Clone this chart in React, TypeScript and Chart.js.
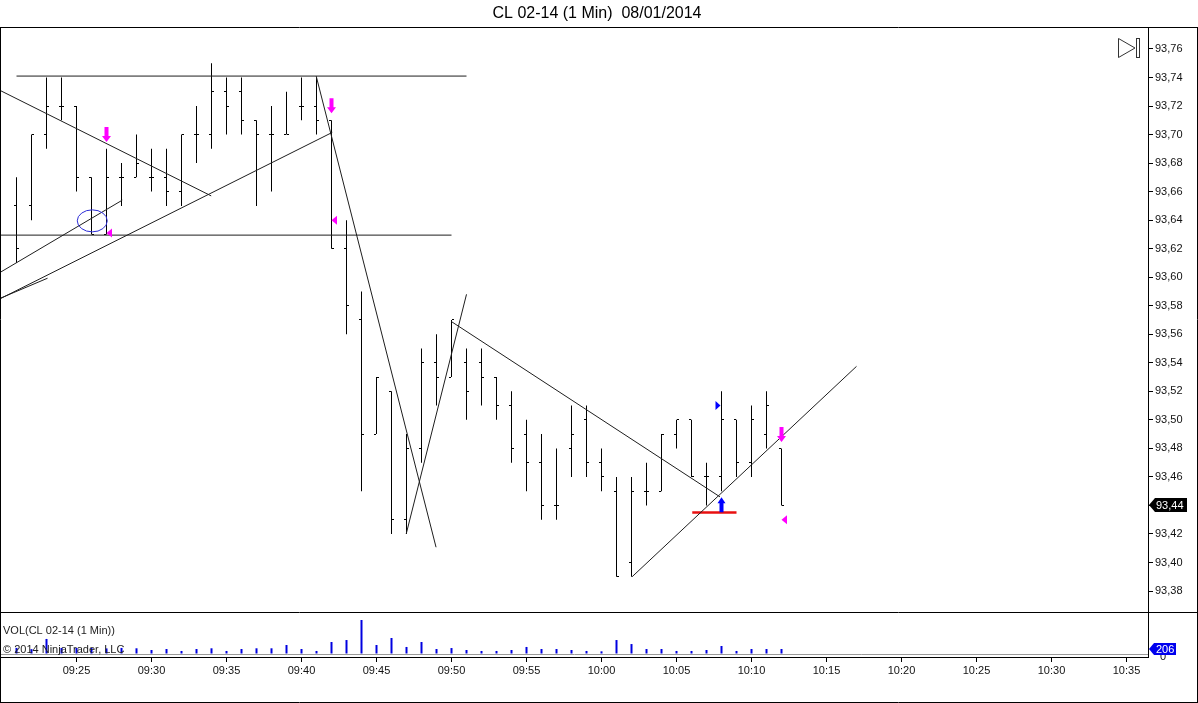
import React, { useEffect, useRef } from "react";
import { Chart, registerables } from "chart.js";

Chart.register(...registerables);

const FONT_FAMILY = "'Liberation Sans', Arial, Helvetica, sans-serif";
const TITLE = "CL 02-14 (1 Min)  08/01/2014";
const VOL_TITLE = "VOL(CL 02-14 (1 Min))";
const COPYRIGHT = "\u00A9 2014 NinjaTrader, LLC";

// ---- bar data (1 minute OHLC) ----
const barTimes = [
  "09:21", "09:22", "09:23", "09:24", "09:25", "09:26", "09:27", "09:28", "09:29", "09:30",
  "09:31", "09:32", "09:33", "09:34", "09:35", "09:36", "09:37", "09:38", "09:39", "09:40",
  "09:41", "09:42", "09:43", "09:44", "09:45", "09:46", "09:47", "09:48", "09:49", "09:50",
  "09:51", "09:52", "09:53", "09:54", "09:55", "09:56", "09:57", "09:58", "09:59", "10:00",
  "10:01", "10:02", "10:03", "10:04", "10:05", "10:06", "10:07", "10:08", "10:09", "10:10",
  "10:11", "10:12",
];
const barOpen = [
  93.65, 93.65, 93.70, 93.72, 93.72, 93.67, 93.63, 93.67, 93.67, 93.67,
  93.67, 93.66, 93.70, 93.70, 93.73, 93.73, 93.71, 93.70, 93.70, 93.72,
  93.72, 93.71, 93.62, 93.57, 93.49, 93.52, 93.43, 93.48, 93.54, 93.53,
  93.54, 93.54, 93.53, 93.51, 93.49, 93.47, 93.44, 93.48, 93.50, 93.47,
  93.45, 93.40, 93.45, 93.45, 93.49, 93.50, 93.46, 93.46, 93.50, 93.47,
  93.49, 93.48,
];
const barHigh = [
  93.67, 93.70, 93.74, 93.74, 93.72, 93.67, 93.69, 93.68, 93.70, 93.69,
  93.69, 93.70, 93.72, 93.75, 93.74, 93.74, 93.71, 93.72, 93.73, 93.74,
  93.74, 93.71, 93.64, 93.59, 93.53, 93.52, 93.49, 93.55, 93.56, 93.57,
  93.55, 93.55, 93.53, 93.52, 93.50, 93.49, 93.48, 93.51, 93.51, 93.48,
  93.46, 93.46, 93.47, 93.49, 93.50, 93.50, 93.47, 93.52, 93.50, 93.51,
  93.52, 93.48,
];
const barLow = [
  93.61, 93.64, 93.69, 93.71, 93.66, 93.63, 93.63, 93.65, 93.67, 93.66,
  93.65, 93.65, 93.68, 93.69, 93.70, 93.70, 93.65, 93.66, 93.70, 93.71,
  93.70, 93.62, 93.56, 93.45, 93.49, 93.42, 93.42, 93.47, 93.51, 93.53,
  93.50, 93.51, 93.50, 93.47, 93.45, 93.43, 93.43, 93.46, 93.46, 93.45,
  93.39, 93.39, 93.44, 93.45, 93.48, 93.46, 93.44, 93.45, 93.46, 93.46,
  93.48, 93.44,
];
const barClose = [
  93.62, 93.70, 93.72, 93.72, 93.67, 93.63, 93.67, 93.67, 93.68, 93.67,
  93.66, 93.70, 93.70, 93.73, 93.72, 93.71, 93.70, 93.70, 93.70, 93.72,
  93.71, 93.62, 93.58, 93.49, 93.53, 93.43, 93.48, 93.54, 93.53, 93.57,
  93.52, 93.53, 93.51, 93.48, 93.47, 93.44, 93.44, 93.49, 93.47, 93.46,
  93.39, 93.45, 93.45, 93.49, 93.50, 93.46, 93.46, 93.50, 93.47, 93.50,
  93.51, 93.44,
];
const barVolume = [
  250, 200, 620, 250, 250, 250, 230, 250, 235, 165,
  205, 125, 205, 235, 125, 205, 235, 235, 370, 205,
  125, 495, 575, 1400, 370, 660, 290, 495, 205, 245,
  165, 125, 125, 165, 290, 205, 205, 165, 125, 110,
  575, 410, 205, 205, 125, 125, 165, 330, 125, 205,
  205, 206,
];

// ---- axis settings (time = minutes after 09:00) ----
const X_MIN = 20 - 1 / 30;
const X_MAX = X_MIN + 1147 / 15;
const PRICE_MIN = 93.3653;
const PRICE_MAX = 93.7754;
const PRICE_STEP = 0.02;
const TIME_STEP = 5;
const FIRST_TIME_TICK = 25;
const VOL_MIN = -123.5;
const VOL_MAX = 1688;

// ---- drawing objects (time in minutes after 09:00, price) ----
const drawnLines = [
  { t1: 21, p1: 93.741, t2: 51, p2: 93.741 },
  { t1: 19.93, p1: 93.6295, t2: 50, p2: 93.6295 },
  { t1: 19.93, p1: 93.7308, t2: 33.98, p2: 93.657 },
  { t1: 19.93, p1: 93.585, t2: 42.05, p2: 93.7015 },
  { t1: 19.93, p1: 93.5853, t2: 23.07, p2: 93.5993 },
  { t1: 19.93, p1: 93.6035, t2: 28.05, p2: 93.654 },
  { t1: 40.98, p1: 93.741, t2: 48.97, p2: 93.4107 },
  { t1: 46.98, p1: 93.42, t2: 51.0, p2: 93.588 },
  { t1: 49.98, p1: 93.569, t2: 67.9, p2: 93.446 },
  { t1: 62.04, p1: 93.39, t2: 77.0, p2: 93.5375 },
];
const supportLines = [{ t1: 66.05, t2: 69.0, p: 93.435 }];
const sellArrows = [
  { t: 27, p: 93.6947 },
  { t: 42, p: 93.7149 },
  { t: 72, p: 93.4844 },
];
const buyArrows = [{ t: 68, p: 93.4458 }];
const exitMarks = [
  { t: 27, p: 93.631 },
  { t: 42, p: 93.64 },
  { t: 72, p: 93.43 },
];
const entryMarks = [{ t: 68, p: 93.51 }];
const circleMarks = [{ t: 26.05, p: 93.6395 }];

const toMinutes = (s: string) => {
  const [h, m] = s.split(":").map(Number);
  return (h - 9) * 60 + m;
};
const fmtTime = (v: number) => {
  const h = 9 + Math.floor(v / 60);
  const m = Math.round(v % 60);
  return `${String(h).padStart(2, "0")}:${String(m).padStart(2, "0")}`;
};
const fmtPrice = (v: number) => v.toFixed(2).replace(".", ",");

function makeTick(side: "left" | "right") {
  const c = document.createElement("canvas");
  c.width = 7;
  c.height = 1;
  const g = c.getContext("2d")!;
  g.fillStyle = "#000";
  if (side === "left") g.fillRect(1, 0, 2, 1);
  else g.fillRect(4, 0, 2, 1);
  return c;
}

export default function App() {
  const priceRef = useRef<HTMLCanvasElement>(null);
  const volRef = useRef<HTMLCanvasElement>(null);

  useEffect(() => {
    const times = barTimes.map(toMinutes);
    const openTick = makeTick("left");
    const closeTick = makeTick("right");
    const font11 = { size: 11, family: FONT_FAMILY };

    const priceOverlay = {
      id: "priceOverlay",
      afterDatasetsDraw(chart: any) {
        const { ctx, chartArea } = chart;
        const xs = chart.scales.x;
        const ys = chart.scales.y;
        ctx.save();
        ctx.beginPath();
        ctx.rect(chartArea.left, chartArea.top, chartArea.right - chartArea.left, chartArea.bottom - chartArea.top);
        ctx.clip();

        circleMarks.forEach((c) => {
          ctx.strokeStyle = "#2b2bd6";
          ctx.lineWidth = 1;
          ctx.beginPath();
          ctx.ellipse(xs.getPixelForValue(c.t), ys.getPixelForValue(c.p), 15, 11, 0, 0, Math.PI * 2);
          ctx.stroke();
        });

        ctx.fillStyle = "#ff00ff";
        sellArrows.forEach((a) => {
          const cx = xs.getPixelForValue(a.t);
          const tip = ys.getPixelForValue(a.p);
          ctx.beginPath();
          ctx.moveTo(cx - 2, tip - 15);
          ctx.lineTo(cx + 2, tip - 15);
          ctx.lineTo(cx + 2, tip - 6);
          ctx.lineTo(cx + 4.5, tip - 6);
          ctx.lineTo(cx, tip);
          ctx.lineTo(cx - 4.5, tip - 6);
          ctx.lineTo(cx - 2, tip - 6);
          ctx.closePath();
          ctx.fill();
        });
        exitMarks.forEach((m) => {
          const cx = xs.getPixelForValue(m.t);
          const cy = ys.getPixelForValue(m.p);
          ctx.beginPath();
          ctx.moveTo(cx, cy);
          ctx.lineTo(cx + 5.5, cy - 4.5);
          ctx.lineTo(cx + 5.5, cy + 4.5);
          ctx.closePath();
          ctx.fill();
        });

        ctx.fillStyle = "#0000ff";
        buyArrows.forEach((a) => {
          const cx = xs.getPixelForValue(a.t);
          const tip = ys.getPixelForValue(a.p);
          ctx.beginPath();
          ctx.moveTo(cx, tip);
          ctx.lineTo(cx + 4, tip + 6);
          ctx.lineTo(cx + 2, tip + 6);
          ctx.lineTo(cx + 2, tip + 15);
          ctx.lineTo(cx - 2, tip + 15);
          ctx.lineTo(cx - 2, tip + 6);
          ctx.lineTo(cx - 4, tip + 6);
          ctx.closePath();
          ctx.fill();
        });
        entryMarks.forEach((m) => {
          const cx = xs.getPixelForValue(m.t) - 1;
          const cy = ys.getPixelForValue(m.p);
          ctx.beginPath();
          ctx.moveTo(cx, cy);
          ctx.lineTo(cx - 5, cy - 4.5);
          ctx.lineTo(cx - 5, cy + 4.5);
          ctx.closePath();
          ctx.fill();
        });
        ctx.restore();
      },
      afterDraw(chart: any) {
        const { ctx, chartArea, width } = chart;
        const ys = chart.scales.y;
        ctx.save();
        // title
        ctx.fillStyle = "#000";
        ctx.font = `16px ${FONT_FAMILY}`;
        ctx.textAlign = "center";
        ctx.textBaseline = "middle";
        ctx.fillText(TITLE, width / 2 - 2, chartArea.top / 2);

        // frame
        ctx.strokeStyle = "#000";
        ctx.lineWidth = 1;
        ctx.beginPath();
        ctx.moveTo(0, chartArea.top + 0.5);
        ctx.lineTo(width, chartArea.top + 0.5);
        ctx.moveTo(0.5, chartArea.top);
        ctx.lineTo(0.5, chartArea.bottom);
        ctx.moveTo(width - 0.5, chartArea.top);
        ctx.lineTo(width - 0.5, chartArea.bottom);
        ctx.stroke();

        // "scroll to end" icon
        const r = chartArea.right;
        const t = chartArea.top;
        ctx.strokeStyle = "#333";
        ctx.beginPath();
        ctx.moveTo(r - 29.5, t + 11.5);
        ctx.lineTo(r - 29.5, t + 30.5);
        ctx.lineTo(r - 13, t + 21);
        ctx.closePath();
        ctx.stroke();
        ctx.strokeRect(r - 11.5, t + 11.5, 3, 19);

        // last price flag
        const last = barClose[barClose.length - 1];
        const yy = Math.round(ys.getPixelForValue(last));
        const x0 = chartArea.right;
        ctx.fillStyle = "#000";
        ctx.beginPath();
        ctx.moveTo(x0 + 1, yy);
        ctx.lineTo(x0 + 7, yy - 7);
        ctx.lineTo(x0 + 39, yy - 7);
        ctx.lineTo(x0 + 39, yy + 7);
        ctx.lineTo(x0 + 7, yy + 7);
        ctx.closePath();
        ctx.fill();
        ctx.fillStyle = "#fff";
        ctx.font = `11px ${FONT_FAMILY}`;
        ctx.textAlign = "left";
        ctx.fillText(fmtPrice(last), x0 + 8, yy + 0.5);
        ctx.restore();
      },
    };

    const priceChart = new Chart(priceRef.current!, {
      type: "line",
      data: {
        datasets: [
          ...drawnLines.map((l) => ({
            type: "line" as const,
            data: [
              { x: l.t1, y: l.p1 },
              { x: l.t2, y: l.p2 },
            ],
            borderColor: "#1e1e1e",
            borderWidth: 1,
            pointRadius: 0,
            fill: false,
            tension: 0,
          })),
          ...supportLines.map((l) => ({
            type: "line" as const,
            data: [
              { x: l.t1, y: l.p },
              { x: l.t2, y: l.p },
            ],
            borderColor: "#e81010",
            borderWidth: 2.5,
            pointRadius: 0,
            fill: false,
          })),
          {
            type: "bar" as const,
            data: times.map((m, i) => ({ x: m, y: [barLow[i], barHigh[i]] })) as any,
            backgroundColor: "#000",
            borderWidth: 0,
            barThickness: 1,
            inflateAmount: 0,
          },
          {
            type: "scatter" as const,
            data: times.map((m, i) => ({ x: m, y: barOpen[i] })),
            pointStyle: openTick as any,
            pointRadius: 3,
            pointHoverRadius: 3,
          },
          {
            type: "scatter" as const,
            data: times.map((m, i) => ({ x: m, y: barClose[i] })),
            pointStyle: closeTick as any,
            pointRadius: 3,
            pointHoverRadius: 3,
          },
        ] as any,
      },
      options: {
        animation: false,
        responsive: false,
        events: [],
        layout: { autoPadding: false, padding: { left: 1, right: 0, top: 27, bottom: 9 } },
        plugins: {
          legend: { display: false },
          tooltip: { enabled: false },
          title: { display: false },
        },
        scales: {
          x: {
            type: "linear",
            min: X_MIN,
            max: X_MAX,
            offset: false,
            display: false,
          },
          y: {
            type: "linear",
            position: "right",
            min: PRICE_MIN,
            max: PRICE_MAX,
            ticks: {
              stepSize: PRICE_STEP,
              includeBounds: false,
              autoSkip: false,
              callback: (v: any) => fmtPrice(Number(v)),
              color: "#111",
              font: font11,
              padding: 2,
            },
            grid: { drawOnChartArea: false, drawTicks: true, tickLength: 5, color: "#000" },
            border: { display: true, color: "#000" },
            afterFit: (s: any) => {
              s.width = 50;
            },
          },
        },
      } as any,
      plugins: [priceOverlay],
    });

    const volOverlay = {
      id: "volOverlay",
      afterDraw(chart: any) {
        const { ctx, chartArea, width, height } = chart;
        const ys = chart.scales.y;
        ctx.save();
        ctx.strokeStyle = "#000";
        ctx.lineWidth = 1;
        ctx.beginPath();
        ctx.moveTo(0, 0.5);
        ctx.lineTo(width, 0.5);
        ctx.moveTo(0.5, 0);
        ctx.lineTo(0.5, height);
        ctx.moveTo(width - 0.5, 0);
        ctx.lineTo(width - 0.5, height);
        ctx.moveTo(0, height - 0.5);
        ctx.lineTo(width, height - 0.5);
        ctx.stroke();

        ctx.fillStyle = "#222";
        ctx.font = `11px ${FONT_FAMILY}`;
        ctx.textAlign = "left";
        ctx.textBaseline = "middle";
        ctx.fillText(VOL_TITLE, chartArea.left + 2, 19);
        ctx.fillText(COPYRIGHT, chartArea.left + 2, 38);

        // zero label partly hidden behind the volume flag
        const y0 = ys.getPixelForValue(0);
        ctx.fillStyle = "#111";
        ctx.fillText("0", chartArea.right + 12, y0 + 3);

        const lastVol = barVolume[barVolume.length - 1];
        const yy = Math.round(ys.getPixelForValue(lastVol));
        const x0 = chartArea.right;
        ctx.fillStyle = "#0000ee";
        ctx.beginPath();
        ctx.moveTo(x0 + 1, yy);
        ctx.lineTo(x0 + 6, yy - 6);
        ctx.lineTo(x0 + 28, yy - 6);
        ctx.lineTo(x0 + 28, yy + 6);
        ctx.lineTo(x0 + 6, yy + 6);
        ctx.closePath();
        ctx.fill();
        ctx.fillStyle = "#fff";
        ctx.fillText(String(lastVol), x0 + 8, yy + 0.5);
        ctx.restore();
      },
    };

    const volChart = new Chart(volRef.current!, {
      type: "bar",
      data: {
        datasets: [
          {
            data: times.map((m, i) => ({ x: m, y: barVolume[i] })) as any,
            backgroundColor: "#0000e0",
            borderWidth: 0,
            barThickness: 2,
            inflateAmount: 0,
          },
        ],
      },
      options: {
        animation: false,
        responsive: false,
        events: [],
        layout: { autoPadding: false, padding: { left: 1, right: 0, top: 1, bottom: 0 } },
        plugins: { legend: { display: false }, tooltip: { enabled: false } },
        scales: {
          x: {
            type: "linear",
            min: X_MIN,
            max: X_MAX,
            offset: false,
            grid: { offset: false, drawOnChartArea: false, drawTicks: true, tickLength: 5, color: "#000" },
            border: { display: true, color: "#000" },
            ticks: {
              stepSize: TIME_STEP,
              includeBounds: false,
              autoSkip: false,
              maxRotation: 0,
              callback: (v: any) => fmtTime(Number(v)),
              color: "#111",
              font: font11,
              padding: 2,
            },
            afterBuildTicks: (s: any) => {
              s.ticks = s.ticks.filter((tk: any) => tk.value >= FIRST_TIME_TICK);
            },
            afterFit: (s: any) => {
              s.height = 46;
            },
          },
          y: {
            type: "linear",
            position: "right",
            min: VOL_MIN,
            max: VOL_MAX,
            beginAtZero: false,
            afterBuildTicks: (s: any) => {
              s.ticks = [{ value: 0 }];
            },
            ticks: { display: false },
            grid: { color: "#9a9a9a", drawTicks: false },
            border: { display: true, color: "#000" },
            afterFit: (s: any) => {
              s.width = 50;
            },
          },
        },
      } as any,
      plugins: [volOverlay],
    });

    return () => {
      priceChart.destroy();
      volChart.destroy();
    };
  }, []);

  return (
    <div
      style={{
        position: "fixed",
        left: 0,
        top: 0,
        width: 1198,
        height: 703,
        background: "#fff",
        overflow: "hidden",
      }}
    >
      <canvas
        ref={priceRef}
        width={1198}
        height={621}
        style={{ position: "absolute", left: 0, top: 0, width: 1198, height: 621 }}
      />
      <canvas
        ref={volRef}
        width={1198}
        height={91}
        style={{ position: "absolute", left: 0, top: 612, width: 1198, height: 91, background: "#fff" }}
      />
    </div>
  );
}
